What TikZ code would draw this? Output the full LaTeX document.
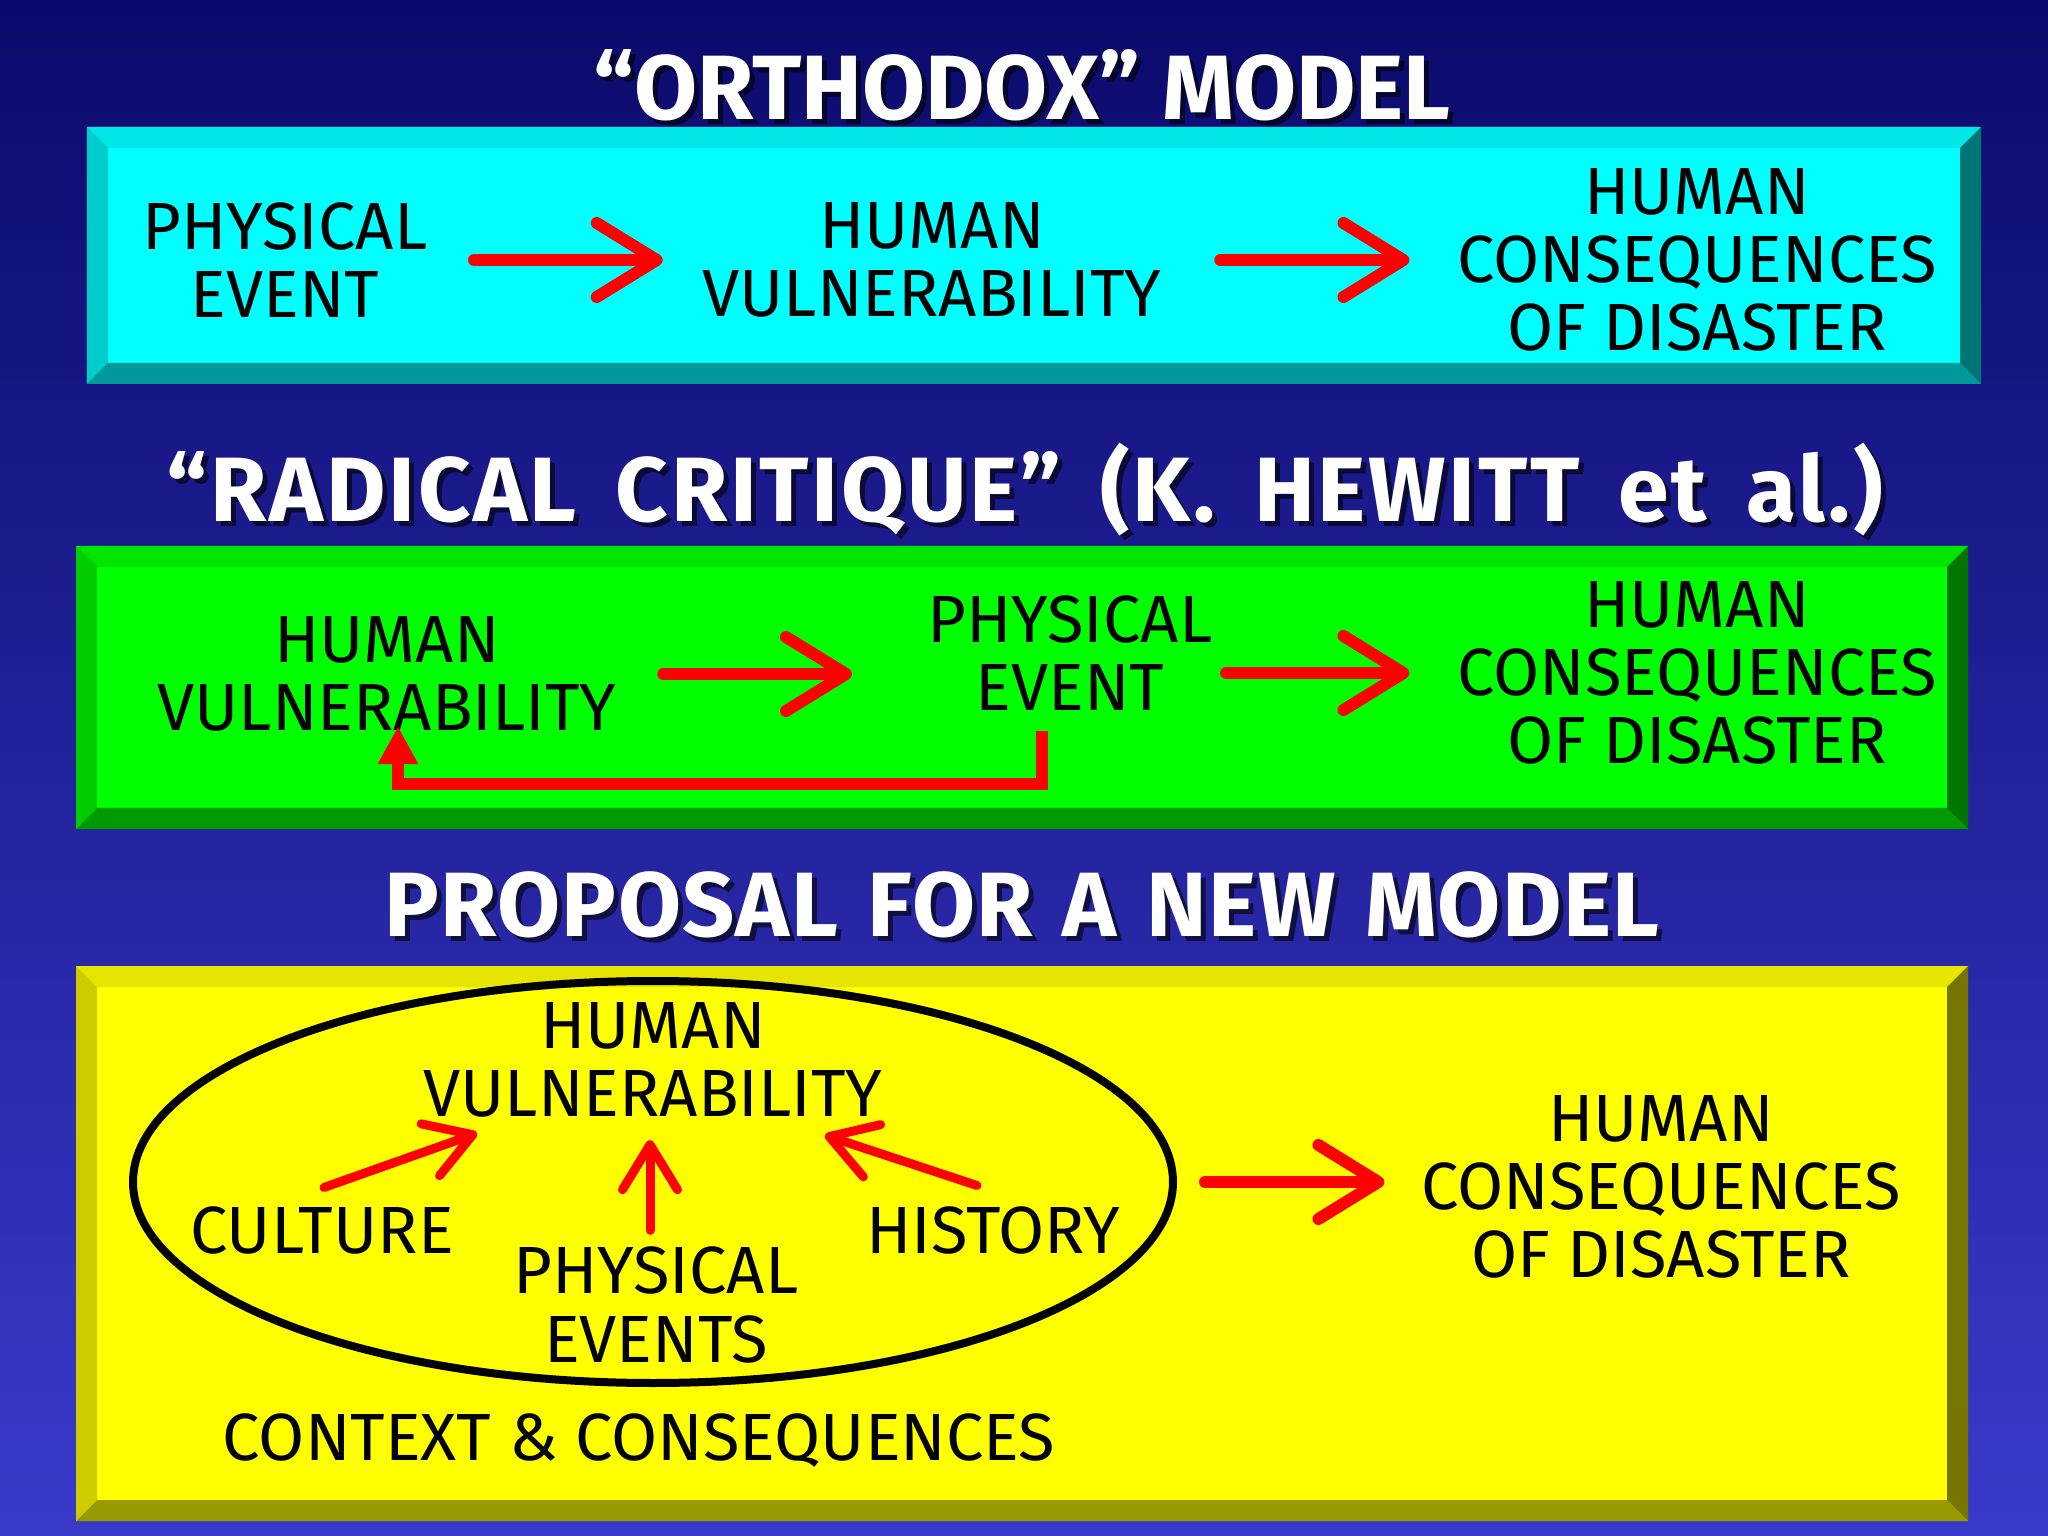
\documentclass[tikz,border=0pt]{standalone}
\usepackage{fontspec}
\setmainfont{Fira Sans}
\newfontfamily\widetitlefont[LetterSpace=3.0,WordSpace=1.6]{Fira Sans}
\newfontfamily\midtitlefont[LetterSpace=1.5,WordSpace=1.3]{Fira Sans}
\usepackage{xcolor}
\usetikzlibrary{arrows.meta,shapes.geometric}

\definecolor{navytop}{HTML}{0A0A6C}
\definecolor{navybot}{HTML}{3A3ACB}
\definecolor{panelcyan}{HTML}{00FFFF}
\definecolor{panelgreen}{HTML}{00FF00}
\definecolor{panelyellow}{HTML}{FFFF00}
\definecolor{arrowred}{HTML}{FF0000}

\begin{document}
\begin{tikzpicture}[
  panel/.style={fill=#1, inner sep=0pt, path picture={
    \fill[#1!90!black] (path picture bounding box.north west) -- (path picture bounding box.north east)
      -- ([shift={(-0.21,-0.21)}]path picture bounding box.north east) -- ([shift={(0.21,-0.21)}]path picture bounding box.north west) -- cycle;
    \fill[#1!80!black] (path picture bounding box.north west) -- (path picture bounding box.south west)
      -- ([shift={(0.21,0.21)}]path picture bounding box.south west) -- ([shift={(0.21,-0.21)}]path picture bounding box.north west) -- cycle;
    \fill[#1!60!black] (path picture bounding box.south west) -- (path picture bounding box.south east)
      -- ([shift={(-0.21,0.21)}]path picture bounding box.south east) -- ([shift={(0.21,0.21)}]path picture bounding box.south west) -- cycle;
    \fill[#1!46!black] (path picture bounding box.north east) -- (path picture bounding box.south east)
      -- ([shift={(-0.21,0.21)}]path picture bounding box.south east) -- ([shift={(-0.21,-0.21)}]path picture bounding box.north east) -- cycle;
  }},
  ttl/.style={font=\fontsize{26}{30}\selectfont\bfseries, text=white, inner sep=0pt},
  ttlshadow/.style={ttl, text=black, opacity=0.6},
  widettl/.style={font=\widetitlefont\fontsize{26}{30}\selectfont\bfseries},
  midttl/.style={font=\midtitlefont\fontsize{26}{30}\selectfont\bfseries},
  txt/.style={font=\fontsize{19}{19.4}\selectfont, align=center, inner sep=0pt},
  chevron/.style={draw=arrowred, line width=0.12cm, line cap=round, -{Straight Barb[length=0.6cm,width=0.74cm,round]}},
  smallchevron/.style={draw=arrowred, line width=0.09cm, line cap=round, -{Straight Barb[length=0.45cm,width=0.55cm,round]}},
  loopback/.style={draw=arrowred, line width=0.12cm, -{Triangle[length=0.38cm,width=0.38cm]}}
]
\useasboundingbox (0,0) rectangle (20.48,-15.36);
\shade[top color=navytop, bottom color=navybot] (0,0) rectangle (20.48,-15.36);

\node[panel=panelcyan, minimum width=18.94cm, minimum height=2.57cm]	(ortho) at (10.34,-2.555)	{};
\node[panel=panelgreen, minimum width=18.92cm, minimum height=2.83cm]	(radical) at (10.22,-6.875)	{};
\node[panel=panelyellow, minimum width=18.92cm, minimum height=5.55cm]	(proposal) at (10.22,-12.435)	{};

\node[ttlshadow]	(t1s) at (10.27,-0.90)		{“ORTHODOX” MODEL};
\node[ttl]		(t1) at (10.22,-0.85)		{“ORTHODOX” MODEL};
\node[ttlshadow, widettl]	(t2s) at (10.30,-4.95)	{“RADICAL CRITIQUE” (K. HEWITT et al.)};
\node[ttl, widettl]	(t2) at (10.25,-4.90)		{“RADICAL CRITIQUE” (K. HEWITT et al.)};
\node[ttlshadow, midttl]	(t3s) at (10.27,-9.10)	{PROPOSAL FOR A NEW MODEL};
\node[ttl, midttl]	(t3) at (10.22,-9.05)		{PROPOSAL FOR A NEW MODEL};

\node[txt]	(phys1) at (2.85,-2.60)		{PHYSICAL\\EVENT};
\node[txt]	(vuln1) at (9.32,-2.60)		{HUMAN\\VULNERABILITY};
\node[txt]	(cons1) at (16.97,-2.60)	{HUMAN\\CONSEQUENCES\\OF DISASTER};

\node[txt]	(vuln2) at (3.87,-6.74)		{HUMAN\\VULNERABILITY};
\node[txt]	(phys2) at (10.70,-6.53)	{PHYSICAL\\EVENT};
\node[txt]	(cons2) at (16.97,-6.73)	{HUMAN\\CONSEQUENCES\\OF DISASTER};

\node[draw, line width=0.08cm, ellipse, minimum width=10.4cm, minimum height=4.02cm]	(ring) at (6.53,-11.82)	{};
\node[txt]	(vuln3) at (6.53,-10.60)	{HUMAN\\VULNERABILITY};
\node[txt]	(culture) at (3.22,-12.30)	{CULTURE};
\node[txt]	(events) at (6.56,-13.05)	{PHYSICAL\\EVENTS};
\node[txt]	(history) at (9.93,-12.30)	{HISTORY};
\node[txt]	(cons3) at (16.61,-11.87)	{HUMAN\\CONSEQUENCES\\OF DISASTER};
\node[txt]	(context) at (6.39,-14.41)	{CONTEXT \& CONSEQUENCES};

\path[chevron]
	(phys1) edge[shorten <=0.46cm, shorten >=0.39cm]	(vuln1)
	(vuln1) edge[shorten <=0.58cm, shorten >=0.47cm]	(cons1);
\draw[chevron, shorten <=0.46cm, shorten >=0.75cm] (vuln2.east) -- (vuln2.east -| phys2.west);
\draw[chevron, shorten <=0.13cm, shorten >=0.47cm] (cons2.west -| phys2.east) -- (cons2.west);
\draw[loopback] ([shift={(-0.28,-0.2)}]phys2.south) -- ++(0,-0.53) -| ([shift={(0.11,0.06)}]vuln2.south);

\draw[smallchevron] ([shift={(0.02,0.18)}]culture.north) -- ([shift={(-1.76,-0.15)}]vuln3.south);
\draw[smallchevron] ([shift={(-0.06,0.16)}]events.north) -- ([shift={(-0.03,-0.22)}]vuln3.south);
\draw[smallchevron] ([shift={(-0.16,0.20)}]history.north) -- ([shift={(1.72,-0.17)}]vuln3.south);
\draw[chevron, shorten <=0.28cm, shorten >=0.36cm] (ring.east) -- (ring.east -| cons3.west);
\end{tikzpicture}
\end{document}
